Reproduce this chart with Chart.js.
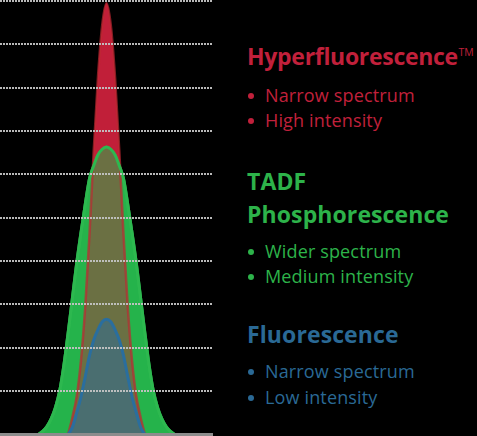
<!DOCTYPE html>
<html><head><meta charset="utf-8">
<script src="https://cdn.jsdelivr.net/npm/chart.js@4"></script>
<style>
html,body{margin:0;padding:0;background:#000;width:477px;height:436px;overflow:hidden;}
#wrap{position:absolute;left:0;top:0;width:213px;height:436px;}
.t{position:absolute;left:247px;font-family:"Open Sans",sans-serif;white-space:nowrap;line-height:1;}
.h{font-size:23px;font-weight:700;letter-spacing:0.1px;}
.h.hf{letter-spacing:-0.3px;}
.b{font-size:18px;font-weight:500;letter-spacing:0.15px;}
.b i{display:inline-block;width:6px;height:6px;border-radius:50%;background:currentColor;margin:0 11px 0 1px;vertical-align:3.5px;}
.red{color:#c1203b;} .green{color:#2db34a;} .blue{color:#2a6995;}
.tm{font-size:10.5px;font-weight:400;position:relative;top:-9px;margin-left:0.5px;letter-spacing:0;}
</style></head>
<body>
<div id="wrap"><canvas id="c" width="213" height="436"></canvas></div>
<div class="t h hf red" style="top:44.6px">Hyperfluorescence<span class="tm">TM</span></div>
<div class="t b red" style="top:86px"><i></i>Narrow spectrum</div>
<div class="t b red" style="top:111px"><i></i>High intensity</div>
<div class="t h green" style="top:169.6px">TADF</div>
<div class="t h green" style="top:202.6px">Phosphorescence</div>
<div class="t b green" style="top:242px"><i></i>Wider spectrum</div>
<div class="t b green" style="top:267px"><i></i>Medium intensity</div>
<div class="t h blue" style="top:322.6px">Fluorescence</div>
<div class="t b blue" style="top:362px"><i></i>Narrow spectrum</div>
<div class="t b blue" style="top:388px"><i></i>Low intensity</div>
<script>
// sample positions (arbitrary spectral units, centre = 0)
const xs = [-34,-32,-30,-28,-26,-24,-22,-20,-18,-16,-14,-12,-10,-8,-6,-4,-2,0,2,4,6,8,10,12,14,16,18,20,22,24,26,28,30,32,34];
// Hyperfluorescence (red)
const hyperfluorescence = [null,null,null,null,null,null,null,null,0,0.4,0.88,1.7,2.93,4.6,6.55,8.25,9.45,9.95,9.45,8.25,6.55,4.6,2.93,1.7,0.88,0.4,0,null,null,null,null,null,null,null,null];
// TADF / Phosphorescence (green)
const tadfPhosphorescence = [null,0,0.07,0.18,0.36,0.62,1.0,1.6,2.35,3.15,3.95,4.65,5.3,5.9,6.2,6.45,6.58,6.63,6.58,6.45,6.2,5.9,5.3,4.65,3.95,3.15,2.35,1.6,1.0,0.62,0.36,0.18,0.07,0,null];
// Fluorescence (blue)
const fluorescence = [null,null,null,null,null,null,null,null,0,0.17,0.5,0.87,1.33,1.82,2.18,2.42,2.6,2.66,2.6,2.42,2.18,1.82,1.33,0.87,0.5,0.17,0,null,null,null,null,null,null,null,null];
const yTicks = [0,1,2,3,4,5,6,7,8,9,10];

function pts(s){ return xs.map((x,i)=>({x:x,y:s[i]})).filter(p=>p.y!==null); }
const common = {pointRadius:0, cubicInterpolationMode:'monotone', fill:'origin'};

new Chart(document.getElementById('c'), {
  type:'line',
  data:{datasets:[
    Object.assign({data:pts(fluorescence), backgroundColor:'rgba(42,108,158,0.5)', borderColor:'#2a6e9e', borderWidth:3, order:1}, common),
    Object.assign({data:pts(tadfPhosphorescence), backgroundColor:'rgba(0,0,0,0)', borderColor:'#2db84f', borderWidth:3, order:2}, common, {fill:false}),
    Object.assign({data:pts(hyperfluorescence), backgroundColor:'rgba(193,32,58,0.45)', borderColor:'rgba(190,40,50,0.7)', borderWidth:2.5, order:3}, common),
    Object.assign({data:pts(tadfPhosphorescence), backgroundColor:'#25b34b', borderColor:'#2db84f', borderWidth:3, order:4}, common),
    Object.assign({data:pts(hyperfluorescence), backgroundColor:'#c1203a', borderWidth:0, order:5}, common)
  ]},
  options:{
    responsive:false, animation:false, devicePixelRatio:1,
    layout:{padding:{top:1,bottom:1.5,left:0,right:0}},
    plugins:{legend:{display:false}, tooltip:{enabled:false}},
    scales:{
      x:{type:'linear', min:-50, max:50, ticks:{display:false}, grid:{display:false, drawTicks:false}, border:{display:true, color:'#8c8c8c', width:3, z:2}},
      y:{min:0, max:10, afterBuildTicks:(s)=>{s.ticks=yTicks.map(v=>({value:v}));}, ticks:{display:false},
         grid:{drawTicks:false, lineWidth:2, z:1, color:(ctx)=>ctx.tick && ctx.tick.value===0 ? 'rgba(0,0,0,0)' : 'rgba(195,195,195,0.95)'},
         border:{display:false, dash:[2,1]}}
    }
  }
});
</script>
</body></html>
